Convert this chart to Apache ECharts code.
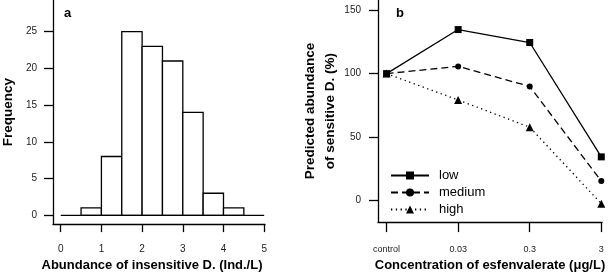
<!DOCTYPE html>
<html>
<head>
<meta charset="utf-8">
<script src="https://cdn.jsdelivr.net/npm/echarts@6/dist/echarts.min.js"></script>
<style>
  html, body { margin: 0; padding: 0; background: #fff; }
  #chart { width: 611px; height: 277px; }
</style>
</head>
<body>
<div id="chart"></div>
<script>
// panel a: histogram
const binStarts = [0.5, 1, 1.5, 2, 2.5, 3, 3.5, 4];
const binEnds = [1, 1.5, 2, 2.5, 3, 3.5, 4, 4.5];
const binCounts = [1, 8, 25, 23, 21, 14, 3, 1];
const histRange = [0, 5];
const histXTicks = [0, 1, 2, 3, 4, 5];
const histYTicks = [0, 5, 10, 15, 20, 25];

// panel b: lines
const concLabels = ['control', '0.03', '0.3', '3'];
const lowVals = [100, 134.7, 124.5, 34.4];
const mediumVals = [100, 105.7, 89.9, 15.3];
const highVals = [100, 79.2, 57.8, -2.5];
const predYTicks = [0, 50, 100, 150];

const FONT = 'Liberation Sans, Arial, sans-serif';
const axisLine = { show: true, onZero: false, lineStyle: { color: '#000', width: 1.3 } };

let chart = echarts.init(document.getElementById('chart'));

let toPoints = (vals) => vals.map((v, i) => [i, v]);

let lineSeries = (name, vals, symbol, size, dash) => ({
  name: name,
  type: 'line',
  xAxisIndex: 1,
  yAxisIndex: 1,
  data: toPoints(vals),
  symbol: symbol,
  symbolSize: size,
  itemStyle: { color: '#000' },
  lineStyle: { color: '#000', width: 1.3, type: dash },
  animation: false
});

chart.setOption({
  animation: false,
  textStyle: { fontFamily: FONT },
  title: [
    { text: 'a', left: 59, top: 2, textStyle: { fontSize: 13, fontWeight: 'bold', color: '#000', fontFamily: FONT } },
    { text: 'b', left: 391, top: 2, textStyle: { fontSize: 13, fontWeight: 'bold', color: '#000', fontFamily: FONT } }
  ],
  legend: {
    orient: 'vertical',
    left: 390,
    top: 169,
    padding: 0,
    itemWidth: 38,
    itemHeight: 10,
    itemGap: 4,
    textStyle: { fontSize: 13, color: '#000', fontFamily: FONT, padding: [0, 0, 0, 5] },
    data: ['low', 'medium', 'high']
  },
  grid: [
    { left: 53, top: 0, width: 212, height: 229 },
    { left: 378, top: 0, width: 224, height: 229 }
  ],
  xAxis: [
    {
      gridIndex: 0, type: 'value', min: -0.19, max: 5.02,
      axisLine: axisLine,
      axisTick: { show: true, length: 8, customValues: histXTicks, lineStyle: { color: '#000', width: 1.3 } },
      axisLabel: { customValues: histXTicks, fontSize: 10, color: '#222', margin: 20 },
      splitLine: { show: false },
      name: 'Abundance of insensitive D. (Ind./L)',
      nameLocation: 'middle',
      nameGap: 33,
      nameTextStyle: { fontSize: 13, fontWeight: 'bold', color: '#000', padding: [0, 14, 0, 0] }
    },
    {
      gridIndex: 1, type: 'value', min: -0.12, max: 3.01,
      axisLine: axisLine,
      axisTick: { show: true, length: 10, customValues: [0, 1, 2, 3], lineStyle: { color: '#000', width: 1.3 } },
      axisLabel: {
        customValues: [0, 1, 2, 3], fontSize: 9, color: '#222', margin: 23,
        formatter: (v) => concLabels[Math.round(v)]
      },
      splitLine: { show: false },
      name: 'Concentration of esfenvalerate (\u03bcg/L)',
      nameLocation: 'middle',
      nameGap: 34,
      nameTextStyle: { fontSize: 13, fontWeight: 'bold', color: '#000' }
    }
  ],
  yAxis: [
    {
      gridIndex: 0, type: 'value', min: -1.2, max: 29.3,
      axisLine: axisLine,
      axisTick: { show: true, length: 9, customValues: histYTicks, lineStyle: { color: '#000', width: 1.3 } },
      axisLabel: { customValues: histYTicks, fontSize: 10, color: '#222', margin: 16 },
      splitLine: { show: false },
      name: 'Frequency',
      nameLocation: 'middle',
      nameRotate: 90,
      nameGap: 38,
      nameTextStyle: { fontSize: 13.5, fontWeight: 'bold', color: '#000' }
    },
    {
      gridIndex: 1, type: 'value', min: -17, max: 158,
      axisLine: axisLine,
      axisTick: { show: true, length: 9, customValues: predYTicks, lineStyle: { color: '#000', width: 1.3 } },
      axisLabel: { customValues: predYTicks, fontSize: 10, color: '#222', margin: 17 },
      splitLine: { show: false },
      name: 'Predicted abundance\nof sensitive D. (%)',
      nameLocation: 'middle',
      nameRotate: 90,
      nameGap: 38,
      nameTextStyle: { fontSize: 13.5, fontWeight: 'bold', color: '#000', lineHeight: 20 }
    }
  ],
  series: [
    {
      // zero baseline under the bins
      type: 'line',
      xAxisIndex: 0,
      yAxisIndex: 0,
      data: [[histRange[0], 0], [histRange[1], 0]],
      symbol: 'none',
      lineStyle: { color: '#000', width: 1.3 },
      silent: true
    },
    {
      type: 'custom',
      xAxisIndex: 0,
      yAxisIndex: 0,
      data: binCounts.map((c, i) => [binStarts[i], binEnds[i], c]),
      renderItem: (params, api) => {
        let p0 = api.coord([api.value(0), api.value(2)]);
        let p1 = api.coord([api.value(1), 0]);
        return {
          type: 'rect',
          shape: { x: p0[0], y: p0[1], width: p1[0] - p0[0], height: p1[1] - p0[1] },
          style: { fill: '#fff', stroke: '#000', lineWidth: 1.3 }
        };
      }
    },
    lineSeries('low', lowVals, 'rect', 7, 'solid'),
    lineSeries('medium', mediumVals, 'circle', 6, [7, 4]),
    lineSeries('high', highVals, 'triangle', 8, [1.3, 3.5])
  ]
});
</script>
</body>
</html>
